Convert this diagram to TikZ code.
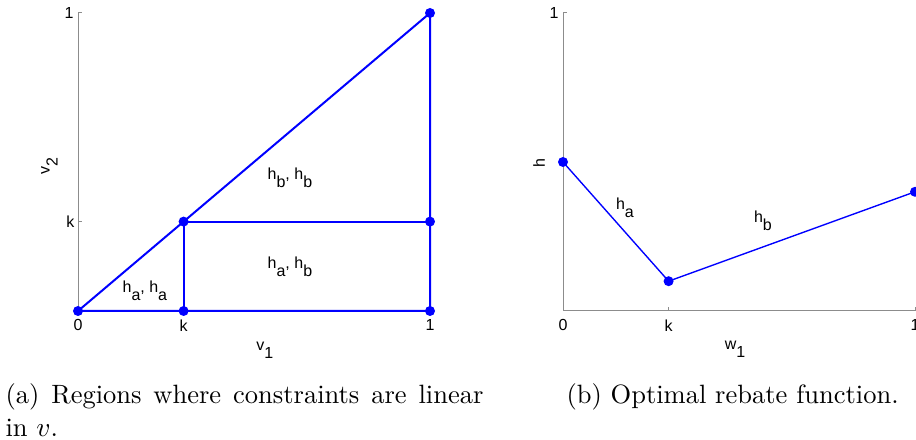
\documentclass[tikz,border=0pt]{standalone}
\usepackage{fontspec}
\usetikzlibrary{positioning}
\newfontfamily\plotfont{Liberation Sans}
\newcommand\lowsub[1]{\raisebox{-3.2pt}{#1}}

\begin{document}
\begin{tikzpicture}[
  x=0.4pt, y=0.4pt,
  font=\plotfont\fontsize{6.4}{7}\selectfont,
  axis/.style={draw=black!45, line width=0.4pt},
  curve/.style={draw=blue, line width=0.8pt},
  thincurve/.style={draw=blue, line width=0.55pt},
  dot/.style={circle, fill=blue, inner sep=0pt, minimum size=4pt},
  ticklab/.style={inner sep=0pt},
  lab/.style={inner sep=0pt, align=center},
  caption/.style={inner sep=0pt, font=\fontsize{10.6}{13.2}\selectfont}
]
\useasboundingbox (0,0) rectangle (916,440);

% (a) regions
\begin{scope}[shift={(78,129)}, x=140.8pt, y=119.2pt]
  \coordinate (o) at (0,0);
  \coordinate (kx) at (.3,0);
  \coordinate (one) at (1,0);
  \coordinate (kk) at (.3,.3);
  \coordinate (k1) at (1,.3);
  \coordinate (top) at (1,1);
  \coordinate (ytop) at (0,1);
  \coordinate (yk) at (0,.3);

  \draw[axis] (ytop) -- (o) -- (one);
  \draw[axis] (ytop) -- ++(1.6pt,0);
  \draw[axis] (yk) -- ++(1.6pt,0);

  \draw[curve] (o) -- (one) -- (top) -- cycle;
  \draw[curve] (kk) -- (k1);
  \draw[curve] (kk) -- (kx);
  \foreach \p in {o,kx,one,kk,k1,top}
    \node[dot] at (\p) {};

  \node[ticklab, left=1.6pt of ytop] (ya1) {1};
  \node[ticklab, left=1.2pt of yk] (yak) {k};
  \node[ticklab, below=3.2pt of o] (xa0) {0};
  \node[ticklab, below=3.2pt of kx] (xak) {k};
  \node[ticklab, below=3.2pt of one] (xa1) {1};
  \node[lab] (v1) at (.531,-.131) {v\lowsub{1}};
  \node[lab, rotate=90] (v2) at (-.081,.487) {v\lowsub{2}};

  \node[lab] (rbb) at (.602,.446) {h\lowsub{b}, h\lowsub{b}};
  \node[lab] (rab) at (.602,.148) {h\lowsub{a}, h\lowsub{b}};
  \node[lab] (raa) at (.19,.067) {h\lowsub{a}, h\lowsub{a}};
\end{scope}

% (b) rebate function
\begin{scope}[shift={(563,129)}, x=140.8pt, y=119.2pt]
  \coordinate (p0) at (0,0);
  \coordinate (pk) at (.3,0);
  \coordinate (p1) at (1,0);
  \coordinate (ptop) at (0,1);
  \coordinate (h0) at (0,.5);
  \coordinate (hk) at (.3,.1);
  \coordinate (h1) at (1,.4);

  \draw[axis] (ptop) -- (p0) -- (p1);
  \draw[axis] (ptop) -- ++(1.6pt,0);
  \draw[axis] (pk) -- ++(0,1.6pt);
  \draw[axis] (p1) -- ++(0,1.6pt);

  \draw[thincurve] (h0) -- (hk) -- (h1);
  \foreach \p in {h0,hk,h1}
    \node[dot] at (\p) {};

  \node[ticklab, left=1.6pt of ptop] (yb1) {1};
  \node[ticklab, below=3.2pt of p0] (xb0) {0};
  \node[ticklab, below=3.2pt of pk] (xbk) {k};
  \node[ticklab, below=3.2pt of p1] (xb1) {1};
  \node[lab] (w1) at (.489,-.13) {w\lowsub{1}};
  \node[lab, rotate=90] (hlab) at (-.068,.497) {h};

  \node[lab] (ha) at (.176,.346) {h\lowsub{a}};
  \node[lab] (hb) at (.568,.302) {h\lowsub{b}};
\end{scope}

\node[caption, anchor=north west, text width=191.2pt, align=justify] (capa) at (5,57)
  {(a) Regions where constraints are linear\linebreak in $v$.};
\node[caption, anchor=north west] (capb) at (566,57)
  {(b) Optimal rebate function.};

\end{tikzpicture}
\end{document}
